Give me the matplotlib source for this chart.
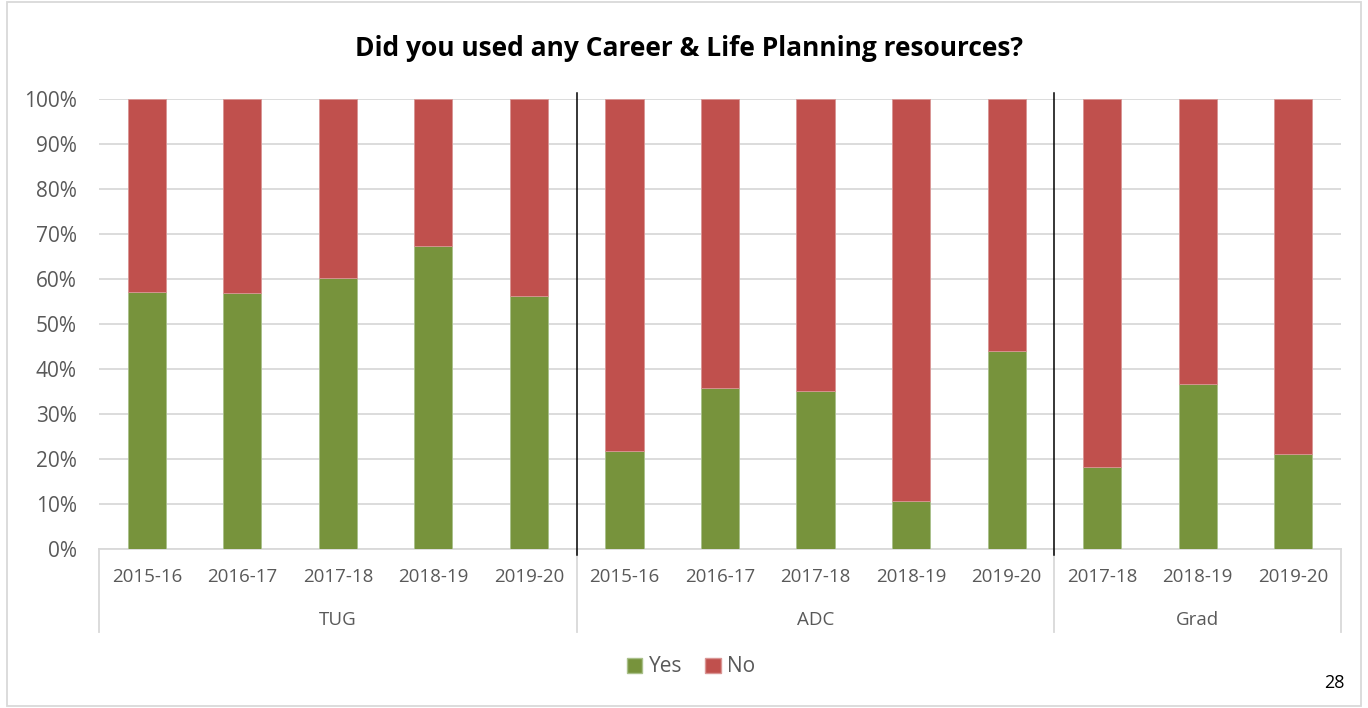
import matplotlib
matplotlib.use("Agg")
import matplotlib.pyplot as plt
from matplotlib.patches import Rectangle, Patch
import numpy as np

groups = ["TUG", "ADC", "Grad"]
years = [["2015-16", "2016-17", "2017-18", "2018-19", "2019-20"],
         ["2015-16", "2016-17", "2017-18", "2018-19", "2019-20"],
         ["2017-18", "2018-19", "2019-20"]]
yes_tug = [57.1, 56.9, 60.2, 67.3, 56.2]
yes_adc = [21.8, 35.8, 35.1, 10.7, 44.1]
yes_grad = [18.2, 36.7, 21.1]
yes_vals = yes_tug + yes_adc + yes_grad
no_vals = [100 - v for v in yes_vals]
tick_labels = [y for g in years for y in g]

plt.rcParams['font.family'] = ['Open Sans', 'DejaVu Sans']

W, H = 1368, 708
fig = plt.figure(figsize=(W / 100, H / 100), dpi=100)
ax = fig.add_axes([99 / W, 1 - 549 / H, (1341 - 99) / W, (549 - 99) / H])

green = "#77933C"
red = "#C0504D"
x = np.arange(len(yes_vals))
ax.bar(x, yes_vals, width=0.4, color=green, edgecolor="#a9c08a", linewidth=0.6, zorder=3)
ax.bar(x, no_vals, width=0.4, bottom=yes_vals, color=red, edgecolor="#d99594", linewidth=0.6, zorder=3)

ax.set_xlim(-0.5, len(x) - 0.5)
ax.set_ylim(0, 100)
ax.set_yticks(np.arange(0, 101, 10))
ax.set_yticklabels([f"{v}%" for v in range(0, 101, 10)], fontsize=15, color="#595959")
ax.yaxis.grid(True, color="#d9d9d9", linewidth=1.3, zorder=0)
ax.set_xticks([])
ax.tick_params(axis='y', length=0, pad=16)
for s in ["top", "right", "left"]:
    ax.spines[s].set_visible(False)
ax.spines["bottom"].set_color("#d9d9d9")
ax.spines["bottom"].set_linewidth(1.3)

# category labels
for i, lab in enumerate(tick_labels):
    ax.text(i, -6.3, lab, ha="center", va="center", fontsize=13.5, color="#595959", clip_on=False)
# group labels and lines
start = 0
bounds = [0]
for g, ys in zip(groups, years):
    n = len(ys)
    ax.text(start + (n - 1) / 2, -15.8, g, ha="center", va="center", fontsize=13.5, color="#595959", clip_on=False)
    start += n
    bounds.append(start)
for b in bounds:
    ax.plot([b - 0.5, b - 0.5], [0, -18.5], color="#d9d9d9", linewidth=1.3, clip_on=False)
# black separators
for b in bounds[1:-1]:
    ax.plot([b - 0.5, b - 0.5], [101.3, -1.3], color="black", linewidth=1.1, clip_on=False, zorder=4)

fig.text(689 / W, 1 - 48 / H, "Did you used any Career & Life Planning resources?", ha="center", va="center",
         fontsize=19, fontweight="bold", color="black")

handles = [Patch(facecolor=green, edgecolor="#a9c08a", label="Yes"),
           Patch(facecolor=red, edgecolor="#d99594", label="No")]
leg = fig.legend(handles=handles, loc="center", bbox_to_anchor=(691 / W, 1 - 667 / H), ncol=2, frameon=False,
                 fontsize=15, handlelength=0.75, handleheight=0.75, handletextpad=0.3, columnspacing=1.1)
for t in leg.get_texts():
    t.set_color("#595959")

fig.text(1334 / W, 1 - 683 / H, "28", ha="center", va="center", fontsize=13, color="black")

fig.add_artist(Rectangle((7 / W, 2 / H), (1361 - 7) / W, (706 - 2) / H, transform=fig.transFigure,
                         fill=False, edgecolor="#d9d9d9", linewidth=1.3))

fig.savefig("out.png", dpi=100)
